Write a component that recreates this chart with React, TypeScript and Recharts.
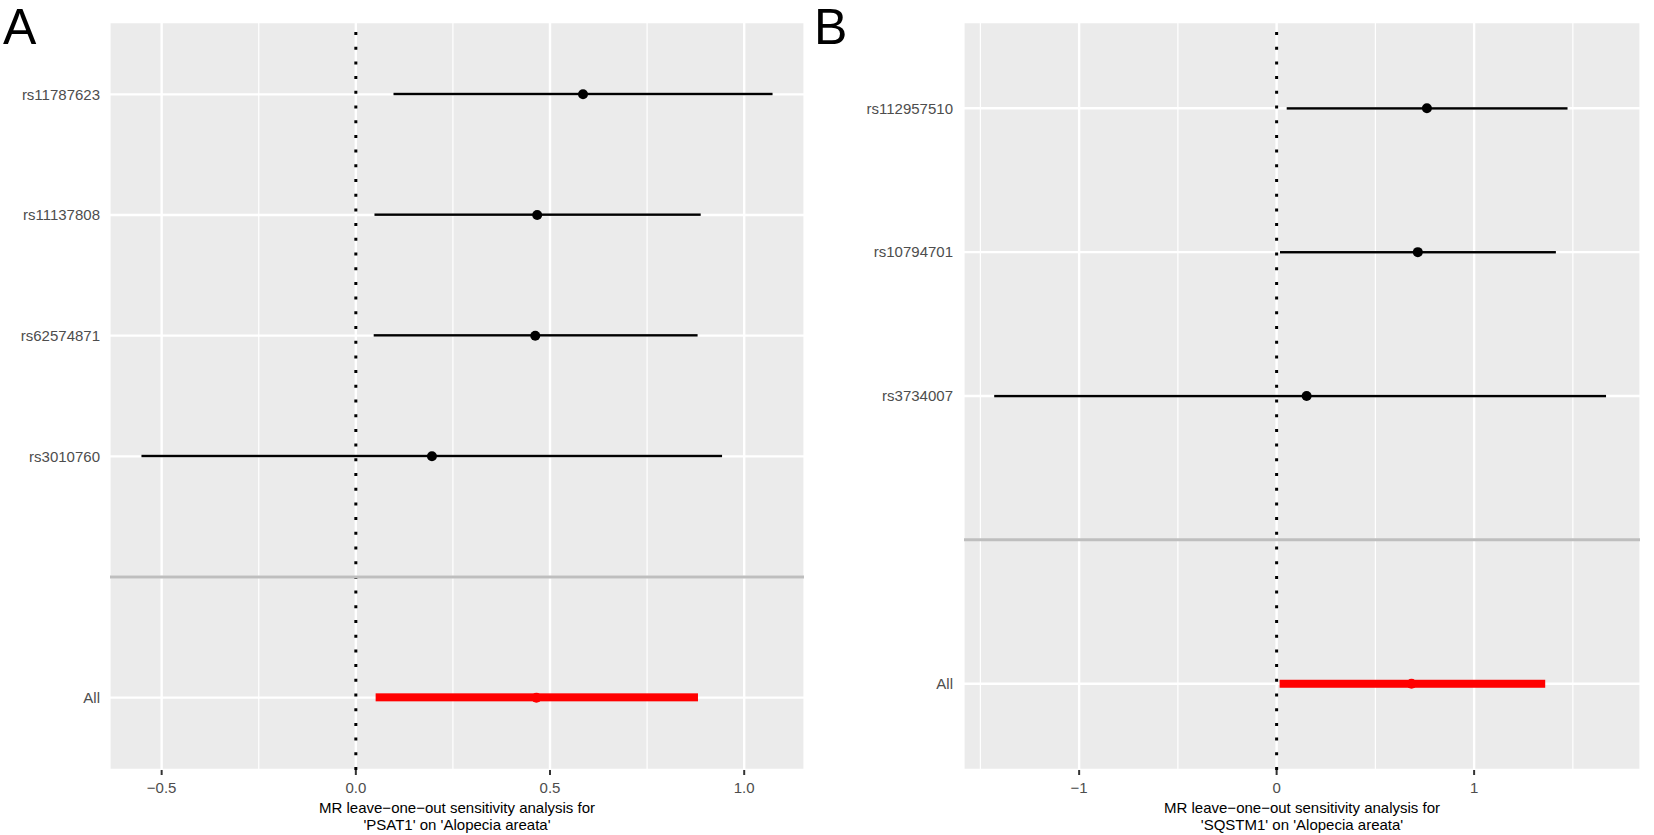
import React from "react";
import {
  ComposedChart,
  Bar,
  Line,
  XAxis,
  YAxis,
  CartesianGrid,
  ReferenceLine,
  Label,
} from "recharts";

// Panel A: PSAT1
const snpA = ["rs11787623", "rs11137808", "rs62574871", "rs3010760", " ", "All"];
const betaA = [0.585, 0.467, 0.462, 0.196, null, 0.465];
const lowA = [0.097, 0.048, 0.046, -0.552, null, 0.051];
const highA = [1.073, 0.888, 0.88, 0.943, null, 0.881];
const gridTicksA = [-0.5, -0.25, 0, 0.25, 0.5, 0.75, 1.0];
const majorTicksA = [-0.5, 0, 0.5, 1.0];

// Panel B: SQSTM1
const snpB = ["rs112957510", "rs10794701", "rs3734007", " ", "All"];
const betaB = [0.761, 0.715, 0.152, null, 0.683];
const lowB = [0.051, 0.017, -1.43, null, 0.015];
const highB = [1.473, 1.414, 1.668, null, 1.36];
const gridTicksB = [-1.5, -1, -0.5, 0, 0.5, 1, 1.5];
const majorTicksB = [-1, 0, 1];

const FONT = '"Liberation Sans", Arial, Helvetica, sans-serif';
const RED = "#FF0000";
const GAP = " ";

type Row = { snp: string; b: number | null; ci: [number, number] | null; isAll: boolean };

const buildRows = (
  snps: string[],
  b: (number | null)[],
  lo: (number | null)[],
  hi: (number | null)[]
): Row[] =>
  snps.map((snp, i) => ({
    snp,
    b: b[i],
    ci: lo[i] == null || hi[i] == null ? null : [lo[i] as number, hi[i] as number],
    isAll: snp === "All",
  }));

const rowsA = buildRows(snpA, betaA, lowA, highA);
const rowsB = buildRows(snpB, betaB, lowB, highB);

const CiShape = (props: any) => {
  const { x, y, width, height, payload } = props;
  if (!payload || payload.ci == null || x == null || width == null) return <g />;
  const thick = payload.isAll ? 8 : 2.4;
  const cy = y + height / 2;
  const left = Math.min(x, x + width);
  return (
    <rect
      x={left}
      y={cy - thick / 2}
      width={Math.abs(width)}
      height={thick}
      fill={payload.isAll ? RED : "#000"}
    />
  );
};

const renderDot = (p: any) => {
  const key = p.key ?? `dot-${p.index}`;
  if (p.cx == null || p.cy == null || p.value == null || p.payload?.b == null)
    return <g key={key} />;
  return <circle key={key} cx={p.cx} cy={p.cy} r={5} fill={p.payload.isAll ? RED : "#000"} />;
};

const fmtMinus = (s: string) => s.replace("-", "\u2212");

const makeXTick = (major: number[], digits: number) => (props: any) => {
  const { x, y, payload } = props;
  if (!major.includes(payload.value)) return <g />;
  return (
    <g>
      <line x1={x} x2={x} y1={y - 5} y2={y} stroke="#333" strokeWidth={2} />
      <text x={x} y={y + 18} textAnchor="middle" fontSize={15} fill="#4d4d4d" fontFamily={FONT}>
        {fmtMinus(payload.value.toFixed(digits))}
      </text>
    </g>
  );
};

const makeXLabel = (gene: string) => (props: any) => {
  const vb = props.viewBox;
  const cx = vb.x + vb.width / 2;
  return (
    <g>
      <text x={cx} y={vb.y + 43} textAnchor="middle" fontSize={15} fill="#000" fontFamily={FONT}>
        MR leave{"\u2212"}one{"\u2212"}out sensitivity analysis for
      </text>
      <text x={cx} y={vb.y + 60} textAnchor="middle" fontSize={15} fill="#000" fontFamily={FONT}>
        {`'${gene}' on 'Alopecia areata'`}
      </text>
    </g>
  );
};

const makeVertical = (ticks: number[], major: number[]) => (p: any) => {
  const v = ticks[p.index];
  const isMajor = major.includes(v);
  return (
    <line
      key={p.key ?? `v-${p.index}`}
      x1={p.x1}
      x2={p.x2}
      y1={p.y1}
      y2={p.y2}
      stroke="#fff"
      strokeWidth={isMajor ? 2.4 : 1.2}
    />
  );
};

const horizontalLine = (p: any) => (
  <line
    key={p.key ?? `h-${p.index}`}
    x1={p.x1}
    x2={p.x2}
    y1={p.y1}
    y2={p.y2}
    stroke="#fff"
    strokeWidth={2.4}
  />
);

interface PanelProps {
  rows: Row[];
  domain: [number, number];
  gridTicks: number[];
  majorTicks: number[];
  digits: number;
  gene: string;
  width: number;
  rightMargin: number;
  yAxisWidth: number;
  tickGap: number;
  pad: number;
}

const Panel: React.FC<PanelProps> = ({
  rows,
  domain,
  gridTicks,
  majorTicks,
  digits,
  gene,
  width,
  rightMargin,
  yAxisWidth,
  tickGap,
  pad,
}) => (
  <ComposedChart
    layout="vertical"
    width={width}
    height={835}
    data={rows}
    margin={{ top: 22, right: rightMargin, bottom: 0, left: 0 }}
  >
    <CartesianGrid
      fill="#EBEBEB"
      fillOpacity={1}
      stroke="none"
      horizontal={horizontalLine}
      vertical={makeVertical(gridTicks, majorTicks)}
    />
    <XAxis
      type="number"
      domain={domain}
      allowDataOverflow
      ticks={gridTicks}
      interval={0}
      axisLine={false}
      tickLine={false}
      tickSize={5}
      tickMargin={0}
      height={65}
      tick={makeXTick(majorTicks, digits)}
    >
      <Label content={makeXLabel(gene)} />
    </XAxis>
    <YAxis
      type="category"
      dataKey="snp"
      width={yAxisWidth}
      interval={0}
      axisLine={false}
      tickLine={false}
      tickSize={0}
      tickMargin={tickGap}
      padding={{ top: pad, bottom: pad }}
      tick={{ fontSize: 15, fill: "#4d4d4d", fontFamily: FONT }}
    />
    <ReferenceLine x={0} stroke="#000" strokeWidth={3} strokeDasharray="3 11.7" />
    <ReferenceLine y={GAP} stroke="#BEBEBE" strokeWidth={3} />
    <Bar dataKey="ci" barSize={8} shape={CiShape} isAnimationActive={false} />
    <Line
      dataKey="b"
      stroke="none"
      dot={renderDot}
      activeDot={false}
      isAnimationActive={false}
    />
  </ComposedChart>
);

const App: React.FC = () => (
  <div
    style={{
      position: "absolute",
      left: 0,
      top: 0,
      width: 1654,
      height: 835,
      background: "#fff",
      overflow: "hidden",
    }}
  >
    <div style={{ position: "absolute", left: 0, top: 0 }}>
      <Panel
        rows={rowsA}
        domain={[-0.633, 1.154]}
        gridTicks={gridTicksA}
        majorTicks={majorTicksA}
        digits={1}
        gene="PSAT1"
        width={820}
        rightMargin={16}
        yAxisWidth={110}
        tickGap={10}
        pad={12}
      />
    </div>
    <div style={{ position: "absolute", left: 844, top: 0 }}>
      <Panel
        rows={rowsB}
        domain={[-1.583, 1.84]}
        gridTicks={gridTicksB}
        majorTicks={majorTicksB}
        digits={0}
        gene="SQSTM1"
        width={810}
        rightMargin={14}
        yAxisWidth={120}
        tickGap={11}
        pad={14.4}
      />
    </div>
    <svg
      width={1654}
      height={835}
      style={{ position: "absolute", left: 0, top: 0, pointerEvents: "none" }}
    >
      <text x={3} y={44} fontSize={50} fontFamily={FONT} fill="#000">
        A
      </text>
      <text x={814} y={44} fontSize={50} fontFamily={FONT} fill="#000">
        B
      </text>
    </svg>
  </div>
);

export default App;
